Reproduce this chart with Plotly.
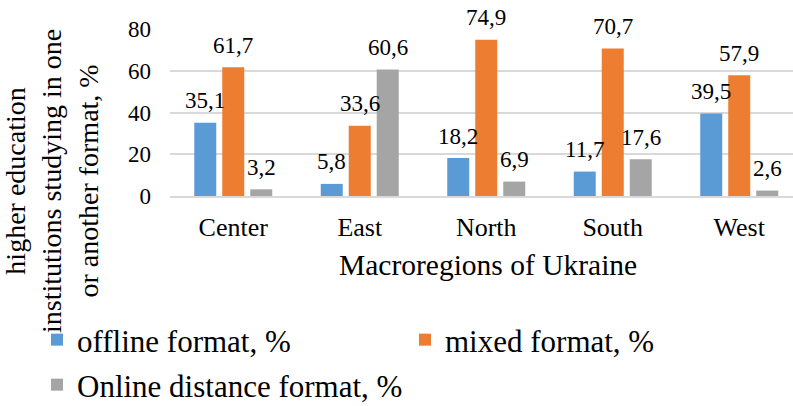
import plotly.graph_objects as go

categories = ["Center", "East", "North", "South", "West"]
offline = [35.1, 5.8, 18.2, 11.7, 39.5]
mixed = [61.7, 33.6, 74.9, 70.7, 57.9]
online = [3.2, 60.6, 6.9, 17.6, 2.6]
series_names = ["offline format, %", "mixed format, %", "Online distance format, %"]
colors = ["#5B9BD5", "#ED7D31", "#A5A5A5"]
y_ticks = [0, 20, 40, 60, 80]

FONT = "Liberation Serif"

W, H = 793, 406
ML, MR, MT, MB = 170, 0, 29, 210
PW = W - ML - MR
PH = H - MT - MB

legend_ids = ["legend", "legend2", "legend3"]
legend_pos = [(37, 313), (405, 313), (37, 358)]

fig = go.Figure()
all_series = [offline, mixed, online]
for name, vals, col, lg in zip(series_names, all_series, colors, legend_ids):
    fig.add_trace(go.Bar(x=categories, y=vals, name=name, marker_color=col,
                         marker_line_width=0, legend=lg))

# data labels
slot_px = 28
for i, vals in enumerate(all_series):
    off = (i - 1) * slot_px
    for c, v in zip(categories, vals):
        fig.add_annotation(x=c, y=v, xref="x", yref="y",
                           text=f"{v:.1f}".replace(".", ","),
                           showarrow=False, xshift=off, yshift=22,
                           yanchor="middle", xanchor="center",
                           font=dict(family=FONT, size=23, color="#000000"))

# y axis title
fig.add_annotation(xref="paper", yref="paper",
                   x=(52 - ML) / PW, y=(MT + PH - 181) / PH,
                   text="higher education<br>institutions studying in one<br>or another format, %",
                   textangle=-90, showarrow=False, xanchor="center", yanchor="middle",
                   font=dict(family=FONT, size=28, color="#000000"))
# x axis title
fig.add_annotation(xref="paper", yref="paper",
                   x=(488 - ML) / PW, y=(MT + PH - 265) / PH,
                   text="Macroregions of Ukraine", showarrow=False,
                   xanchor="center", yanchor="middle",
                   font=dict(family=FONT, size=29.5, color="#000000"))

legend_style = dict(orientation="h", xref="container", yref="container",
                    xanchor="left", yanchor="top",
                    font=dict(family=FONT, size=31, color="#000000"),
                    bgcolor="rgba(0,0,0,0)")

fig.update_layout(
    width=W, height=H,
    margin=dict(l=ML, r=MR, t=MT, b=MB, autoexpand=False),
    paper_bgcolor="white", plot_bgcolor="white",
    barmode="group", bargap=0.336, bargroupgap=0.214,
    font=dict(family=FONT, color="#000000"),
    xaxis=dict(range=[-0.5, 4.425], showgrid=False, showline=True,
               linecolor="#D9D9D9", linewidth=1.5, ticks="",
               tickfont=dict(family=FONT, size=26), ticklabelstandoff=7,
               zeroline=False),
    yaxis=dict(range=[0, 80], tickvals=y_ticks, showgrid=True,
               gridcolor="#D9D9D9", gridwidth=1.5, showline=False,
               zeroline=False, ticks="",
               tickfont=dict(family=FONT, size=23), ticklabelstandoff=18),
    showlegend=True,
)
for lg, (px, py) in zip(legend_ids, legend_pos):
    fig.update_layout({lg: dict(legend_style, x=px / W, y=1 - py / H)})

fig.write_html("out.html", config={"displayModeBar": False},
               post_script="document.body.style.margin='0';document.body.style.padding='0';")
